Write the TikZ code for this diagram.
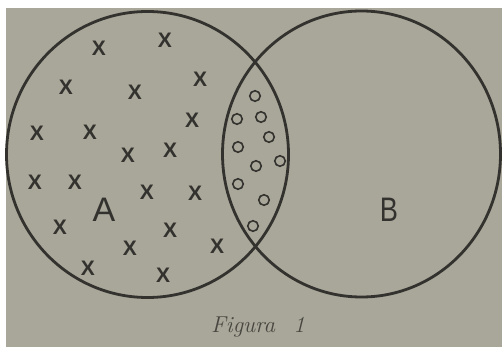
\documentclass[tikz,border=0pt]{standalone}
\usepackage{fontspec}
\newfontfamily\letterfont{Liberation Sans}
\definecolor{paper}{RGB}{168,167,153}
\definecolor{ink}{RGB}{52,50,46}
\definecolor{capink}{RGB}{72,70,64}
\tikzset{
  setline/.style={draw=ink, line width=2.8pt},
  xmark/.style={inner sep=0pt, text=ink, font=\letterfont\bfseries\fontsize{21}{21}\selectfont},
  omark/.style={circle, draw=ink, line width=1.6pt, minimum size=10.5pt, inner sep=0pt},
  setlabel/.style={inner sep=0pt, text=ink, font=\letterfont\fontsize{34}{34}\selectfont},
}
\begin{document}
\begin{tikzpicture}[x=1pt,y=-1pt]
\useasboundingbox (0,0) rectangle (502,347);
\fill[white] (0,0) rectangle (502,347);
\fill[paper] (6,8) rectangle (502,347);
% sets
\draw[setline] (147.5,154.5) ellipse [x radius=141, y radius=143];
\draw[setline] (361.5,154) ellipse [x radius=139, y radius=143];
% x marks
\foreach \p [count=\i] in {(99,48),(165,40),(66,87),(135,92),(200,79),(37,133),(90,132),(192,120),(128,155),(170,150),(35,182),(75,182),(147,192),(195,193),(60,227),(170,230),(130,248),(217,246),(88,268),(163,275)}
  \node[xmark] (x\i) at \p {X};
% o marks
\foreach \p [count=\i] in {(255,96),(237,119),(261,117),(269,137),(238,147),(256,166),(280,161),(238,184),(264,200),(253,226)}
  \node[omark] (o\i) at \p {};
% labels
\node[setlabel] (lA) at (104,210) {A};
\node[setlabel, xscale=0.8] (lB) at (389,210) {B};
\node[anchor=base west, inner sep=0pt, text=capink, font=\fontsize{23}{23}\selectfont\itshape] (cap) at (211,332) {Figura\hspace{0.45em} 1};
\end{tikzpicture}
\end{document}
